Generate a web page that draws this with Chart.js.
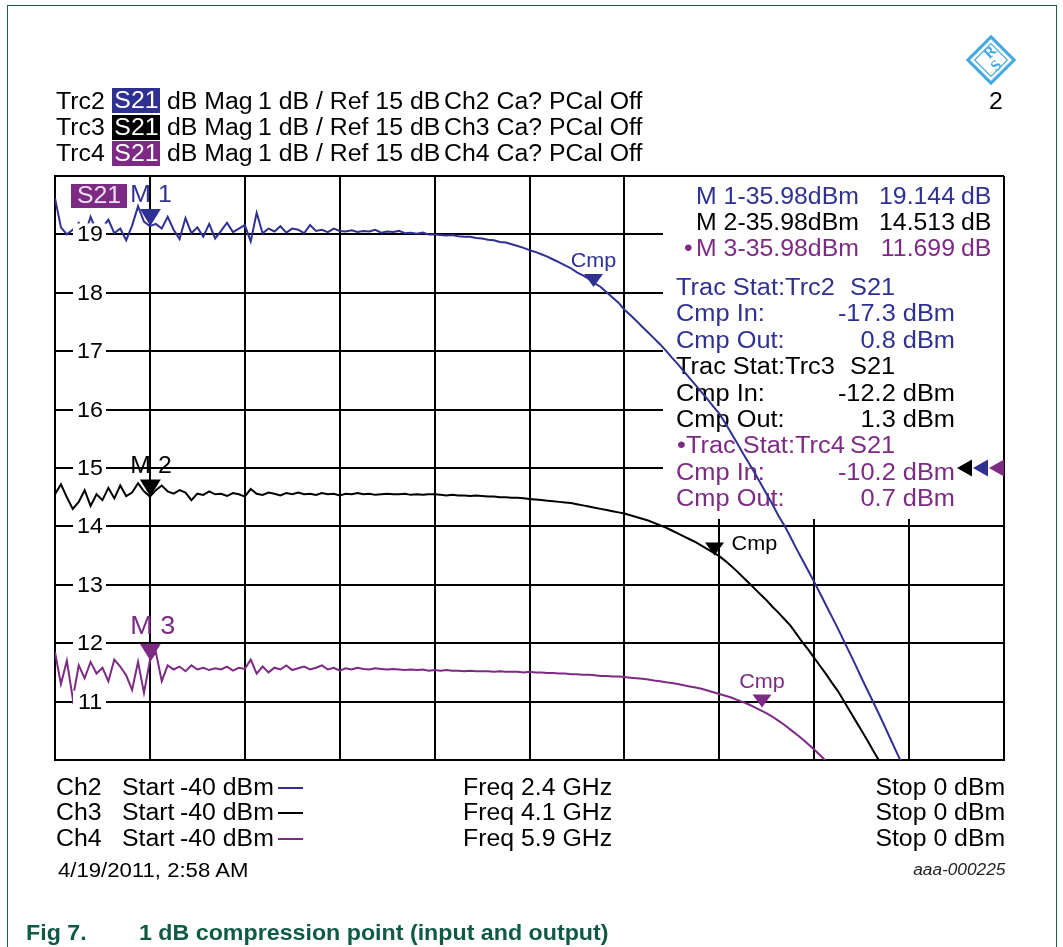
<!DOCTYPE html>
<html>
<head>
<meta charset="utf-8">
<title>1 dB compression point</title>
<script src="https://cdn.jsdelivr.net/npm/chart.js@4.4.1/dist/chart.umd.min.js"></script>
<style>
  html, body { margin: 0; padding: 0; background: #fff; }
  body { width: 1063px; height: 947px; position: relative; overflow: hidden;
         font-family: "Liberation Sans", Arial, Helvetica, sans-serif; }
  #frame { position: absolute; left: 7px; top: 5px; width: 1050px; height: 980px;
           border: 1.5px solid #1d5f4b; box-sizing: border-box; }
  #plot { position: absolute; left: 0; top: 0; }
  .t { position: absolute; white-space: nowrap; font-size: 23px; line-height: 26px; color: #000;
       transform: scaleX(1.08); transform-origin: left center; }
  .tr { transform-origin: right center; }
  .box { position: absolute; left: 112px; width: 48px; height: 25px; line-height: 25px;
         text-align: center; color: #fff; font-size: 23px; }
  .box span { display: inline-block; transform: scaleX(1.08); }
  .dash { position: absolute; left: 278px; width: 25px; height: 2px; }
  .cap { position: absolute; white-space: nowrap; font-size: 21.5px; line-height: 26px; font-weight: bold;
         color: #0f5a45; transform: scaleX(1.08); transform-origin: left center; }
</style>
</head>
<body>
<div id="frame"></div>
<canvas id="plot" width="1063" height="947"></canvas>

<!-- instrument logo -->
<svg style="position:absolute;left:966px;top:35px" width="50" height="50" viewBox="0 0 52 52">
  <polygon points="26,2 50,26 26,50 2,26" fill="none" stroke="#45a8de" stroke-width="3.2"/>
  <polygon points="26,9 43,26 26,43 9,26" fill="none" stroke="#45a8de" stroke-width="1.2"/>
  <text x="21" y="27" font-size="16" font-weight="bold" fill="#45a8de" font-family="Liberation Serif, serif" transform="rotate(-45 21 22)">R</text>
  <text x="27" y="37" font-size="16" font-weight="bold" fill="#45a8de" font-family="Liberation Serif, serif" transform="rotate(-45 31 32)">S</text>
</svg>

<!-- trace header lines -->
<div class="t" style="left:56px;top:88px">Trc2</div>
<div class="box" style="top:88px;background:#2e3192"><span>S21</span></div>
<div class="t" style="left:167px;top:88px">dB Mag</div>
<div class="t" style="left:258px;top:88px">1 dB / Ref 15 dB</div>
<div class="t" style="left:444px;top:88px">Ch2 Ca? PCal Off</div>
<div class="t tr" style="right:60px;top:88px">2</div>

<div class="t" style="left:56px;top:114px">Trc3</div>
<div class="box" style="top:114.5px;background:#000"><span>S21</span></div>
<div class="t" style="left:167px;top:114px">dB Mag</div>
<div class="t" style="left:258px;top:114px">1 dB / Ref 15 dB</div>
<div class="t" style="left:444px;top:114px">Ch3 Ca? PCal Off</div>

<div class="t" style="left:56px;top:140px">Trc4</div>
<div class="box" style="top:141px;background:#7d2a84"><span>S21</span></div>
<div class="t" style="left:167px;top:140px">dB Mag</div>
<div class="t" style="left:258px;top:140px">1 dB / Ref 15 dB</div>
<div class="t" style="left:444px;top:140px">Ch4 Ca? PCal Off</div>

<!-- channel footer -->
<div class="t" style="left:56px;top:774px">Ch2</div>
<div class="t" style="left:122px;top:774px">Start</div>
<div class="t" style="left:180px;top:774px">-40 dBm</div>
<div class="dash" style="top:787px;background:#2e3192"></div>
<div class="t" style="left:463px;top:774px">Freq 2.4 GHz</div>
<div class="t tr" style="right:58px;top:774px">Stop 0 dBm</div>

<div class="t" style="left:56px;top:799px">Ch3</div>
<div class="t" style="left:122px;top:799px">Start</div>
<div class="t" style="left:180px;top:799px">-40 dBm</div>
<div class="dash" style="top:812px;background:#000"></div>
<div class="t" style="left:463px;top:799px">Freq 4.1 GHz</div>
<div class="t tr" style="right:58px;top:799px">Stop 0 dBm</div>

<div class="t" style="left:56px;top:825px">Ch4</div>
<div class="t" style="left:122px;top:825px">Start</div>
<div class="t" style="left:180px;top:825px">-40 dBm</div>
<div class="dash" style="top:838px;background:#7d2a84"></div>
<div class="t" style="left:463px;top:825px">Freq 5.9 GHz</div>
<div class="t tr" style="right:58px;top:825px">Stop 0 dBm</div>

<div class="t" style="left:58px;top:857px;font-size:20.5px">4/19/2011, 2:58 AM</div>
<div class="t tr" style="right:58px;top:857px;font-size:16px;font-style:italic;color:#222">aaa-000225</div>

<div class="cap" style="left:26px;top:920px">Fig 7.</div>
<div class="cap" style="left:139px;top:920px">1 dB compression point (input and output)</div>

<script>
// Power sweep of the analyzer (stimulus axis, dBm)
const START_DBM = -40;
const STOP_DBM = 0;
const SWEEP_POINTS = 161;
const stimulus = Array.from({ length: SWEEP_POINTS },
  (_, i) => START_DBM + i * (STOP_DBM - START_DBM) / (SWEEP_POINTS - 1));

// Trace identifiers and colours
const traceNames = ['Trc2', 'Trc3', 'Trc4'];
const traceColors = ['#2e3192', '#000000', '#7d2a84'];

// S21 magnitude (dB) per sweep point, Ch2 2.4 GHz
const trc2 = [
  19.62, 19.12, 19.00, 19.08, 19.20, 18.98, 19.30, 19.05, 19.12, 19.25,
  19.02, 19.10, 18.90, 19.15, 19.48, 19.22, 19.14, 19.18, 19.10, 19.30,
  19.08, 18.92, 19.28, 19.02, 19.12, 18.96, 19.18, 18.93, 19.06, 19.20,
  19.04, 19.10, 19.16, 18.88, 19.37, 19.02, 19.10, 19.05, 19.14, 19.03,
  19.10, 19.08, 19.02, 19.16, 19.06, 19.08, 19.04, 19.10, 19.06,
  19.05, 19.07, 19.04, 19.06, 19.05, 19.08, 19.03, 19.05, 19.04, 19.06, 19.02, 19.03,
  19.01, 19.03, 19.00, 19.00, 18.99, 18.98, 18.99, 18.97, 18.96, 18.96, 18.94, 18.93,
  18.91, 18.90, 18.87, 18.86, 18.83, 18.80, 18.77, 18.73, 18.70, 18.66, 18.62, 18.57,
  18.52, 18.47, 18.42, 18.35, 18.30, 18.24, 18.16, 18.10, 18.01, 17.92, 17.83, 17.71,
  17.62, 17.52, 17.42, 17.32, 17.22, 17.12, 17.01, 16.89, 16.78, 16.66, 16.54, 16.42,
  16.30, 16.18, 16.05, 15.93, 15.77, 15.60, 15.43, 15.25, 15.08, 14.91, 14.73, 14.55,
  14.37, 14.18, 14.01, 13.82, 13.62, 13.43, 13.24, 13.05, 12.85, 12.65, 12.45, 12.25,
  12.04, 11.83, 11.62, 11.40, 11.19, 10.98, 10.77, 10.55, 10.33, 10.11, 9.89, 9.66,
  9.45, 9.23, 9.01, 8.80, 8.57, 8.35, 8.13, 7.90, 7.68, 7.45, 7.22, 7.00,
  6.78, 6.55, 6.33, 6.10
];

// S21 magnitude (dB), Ch3 4.1 GHz
const trc3 = [
  14.55, 14.72, 14.50, 14.30, 14.42, 14.62, 14.35, 14.55, 14.45, 14.66,
  14.48, 14.70, 14.52, 14.58, 14.74, 14.60, 14.51, 14.62, 14.70, 14.60,
  14.56, 14.62, 14.58, 14.45, 14.56, 14.54, 14.60, 14.55, 14.56, 14.52,
  14.57, 14.55, 14.51, 14.64, 14.56, 14.54, 14.58, 14.56, 14.53, 14.57,
  14.55, 14.58, 14.55, 14.56, 14.54, 14.57, 14.55, 14.56, 14.53,
  14.56, 14.55, 14.57, 14.55, 14.56, 14.54, 14.55, 14.56, 14.55, 14.55, 14.56, 14.54,
  14.55, 14.54, 14.55, 14.55, 14.54, 14.53, 14.54, 14.53, 14.53, 14.52, 14.53, 14.52,
  14.51, 14.51, 14.50, 14.50, 14.49, 14.49, 14.48, 14.47, 14.46, 14.45, 14.44, 14.43,
  14.42, 14.41, 14.40, 14.38, 14.36, 14.34, 14.32, 14.30, 14.28, 14.26, 14.24, 14.22,
  14.19, 14.16, 14.13, 14.10, 14.06, 14.02, 13.98, 13.93, 13.88, 13.83, 13.78, 13.73,
  13.67, 13.61, 13.55, 13.49, 13.41, 13.32, 13.23, 13.13, 13.03, 12.93, 12.83, 12.73,
  12.62, 12.52, 12.41, 12.30, 12.16, 12.02, 11.89, 11.75, 11.61, 11.47, 11.32, 11.18,
  11.01, 10.84, 10.67, 10.50, 10.33, 10.15, 9.98, 9.80, 9.62, 9.43, 9.24, 9.05,
  8.86, 8.67, 8.49, 8.30, 8.10, 7.90, 7.70, 7.50, 7.30, 7.10, 6.90, 6.70,
  6.50, 6.30, 6.10, 5.90
];

// S21 magnitude (dB), Ch4 5.9 GHz
const trc4 = [
  11.85, 11.30, 11.70, 11.05, 11.62, 11.40, 11.68, 11.48, 11.58, 11.35,
  11.72, 11.60, 11.45, 11.20, 11.68, 11.15, 11.70, 11.85, 11.35, 11.62,
  11.55, 11.60, 11.52, 11.62, 11.55, 11.58, 11.54, 11.57, 11.55, 11.60,
  11.53, 11.58, 11.56, 11.72, 11.48, 11.60, 11.50, 11.58, 11.55, 11.62,
  11.54, 11.57, 11.60, 11.55, 11.58, 11.62, 11.55, 11.58, 11.53,
  11.57, 11.55, 11.58, 11.56, 11.55, 11.57, 11.56, 11.55, 11.56, 11.55, 11.54, 11.55,
  11.54, 11.55, 11.53, 11.54, 11.53, 11.54, 11.53, 11.53, 11.52, 11.53, 11.52, 11.52,
  11.52, 11.51, 11.52, 11.51, 11.51, 11.51, 11.50, 11.51, 11.50, 11.50, 11.49, 11.49,
  11.48, 11.48, 11.47, 11.47, 11.46, 11.46, 11.45, 11.44, 11.44, 11.43, 11.43, 11.42,
  11.41, 11.40, 11.39, 11.38, 11.36, 11.35, 11.33, 11.32, 11.30, 11.28, 11.26, 11.24,
  11.22, 11.19, 11.16, 11.13, 11.10, 11.07, 11.03, 10.99, 10.95, 10.90, 10.85, 10.80,
  10.74, 10.67, 10.60, 10.52, 10.44, 10.36, 10.27, 10.18, 10.08, 9.98, 9.88, 9.78,
  9.66, 9.54, 9.42, 9.30, 9.18, 9.05, 8.93, 8.80, 8.67, 8.55, 8.42, 8.30,
  8.18, 8.05, 7.93, 7.80, 7.67, 7.55, 7.42, 7.30, 7.18, 7.05, 6.93, 6.80,
  6.68, 6.55, 6.43, 6.30
];

// Markers M1..M3 (stimulus in dBm, readout in dB)
const markerNames = ['M 1', 'M 2', 'M 3'];
const markerStimulus = [-35.98, -35.98, -35.98];
const markerValues = [19.144, 14.513, 11.699];

// Compression point statistics per trace (dBm)
const cmpIn = [-17.3, -12.2, -10.2];
const cmpOut = [0.8, 1.3, 0.7];

// Scale settings: 1 dB / div, reference level 15 dB
const refLevel = 15;
const yMin = 10, yMax = 20, yStep = 1;
const xStep = 4;

const FONT = '"Liberation Sans", Arial, Helvetica, sans-serif';
const SX = 1.08;

function txt(ctx, s, x, y, size, color, align) {
  ctx.save();
  ctx.font = size + 'px ' + FONT;
  ctx.fillStyle = color;
  ctx.textBaseline = 'middle';
  ctx.textAlign = align || 'left';
  ctx.translate(x, y);
  ctx.scale(SX, 1);
  ctx.fillText(s, 0, 0);
  ctx.restore();
}

function downTriangle(ctx, cx, tipY, w, h, color) {
  ctx.beginPath();
  ctx.moveTo(cx - w / 2, tipY - h);
  ctx.lineTo(cx + w / 2, tipY - h);
  ctx.lineTo(cx, tipY);
  ctx.closePath();
  ctx.fillStyle = color;
  ctx.fill();
}

function leftTriangle(ctx, tipX, cy, w, h, color) {
  ctx.beginPath();
  ctx.moveTo(tipX, cy);
  ctx.lineTo(tipX + w, cy - h / 2);
  ctx.lineTo(tipX + w, cy + h / 2);
  ctx.closePath();
  ctx.fillStyle = color;
  ctx.fill();
}

const analyzerOverlay = {
  id: 'analyzerOverlay',
  beforeDatasetsDraw(chart) {
    const { ctx, chartArea: a } = chart;
    ctx.save();
    // readout panel covering the grid in the upper right
    ctx.fillStyle = '#fff';
    ctx.fillRect(a.right - 341, a.top + 1, 340, 342);

    // marker readout
    markerNames.forEach((m, i) => {
      const cy = a.top + 22 + i * 26;
      const c = traceColors[i];
      if (i === 2) txt(ctx, '\u2022', a.right - 320, cy, 23, c);
      txt(ctx, m + markerStimulus[i].toFixed(2) + 'dBm', a.right - 308, cy, 23, c);
      txt(ctx, markerValues[i].toFixed(3), a.right - 49, cy, 23, c, 'right');
      txt(ctx, 'dB', a.right - 43, cy, 23, c);
    });

    // trace statistics
    traceNames.forEach((n, i) => {
      const c = traceColors[i];
      const y0 = a.top + 112.3 + i * 3 * 26.45;
      const head = (i === 2 ? '\u2022' : '') + 'Trac Stat:' + n;
      txt(ctx, head, a.right - (i === 2 ? 327 : 328), y0, 23.5, c);
      txt(ctx, 'S21', a.right - 154, y0, 23.5, c);
      txt(ctx, 'Cmp In:', a.right - 328, y0 + 26.45, 23.5, c);
      txt(ctx, cmpIn[i].toFixed(1) + ' dBm', a.right - 49, y0 + 26.45, 23.5, c, 'right');
      txt(ctx, 'Cmp Out:', a.right - 328, y0 + 52.9, 23.5, c);
      txt(ctx, cmpOut[i].toFixed(1) + ' dBm', a.right - 49, y0 + 52.9, 23.5, c, 'right');
    });
    ctx.restore();
  },
  afterDatasetsDraw(chart) {
    const { ctx, chartArea: a, scales } = chart;
    const xs = scales.x, ys = scales.y;
    ctx.save();

    // value labels sitting on the horizontal grid lines
    ys.ticks.forEach(t => {
      if (t.value <= yMin || t.value >= yMax) return;
      const py = ys.getPixelForValue(t.value);
      ctx.fillStyle = '#fff';
      ctx.fillRect(a.left + 18, py - 11, 33, 22);
      txt(ctx, String(t.value), a.left + 35, py + 1, 21.5, '#000', 'center');
    });

    // active measured quantity tag
    ctx.fillStyle = '#7d2a84';
    ctx.fillRect(a.left + 16, a.top + 8, 56, 24);
    txt(ctx, 'S21', a.left + 44, a.top + 20.5, 23, '#ece0f0', 'center');

    // markers M1..M3
    markerNames.forEach((m, i) => {
      const px = xs.getPixelForValue(markerStimulus[i]);
      const py = ys.getPixelForValue(markerValues[i]);
      downTriangle(ctx, px, py, 21, 17, traceColors[i]);
      txt(ctx, m, px - 20, py - (i === 2 ? 34 : 30), i === 2 ? 25 : 23, traceColors[i]);
    });

    // compression point markers
    cmpIn.forEach((v, i) => {
      const px = xs.getPixelForValue(v);
      const py = ys.getPixelForValue(cmpOut[i] - v);
      downTriangle(ctx, px, py, 19, 13, traceColors[i]);
      if (i === 1) txt(ctx, 'Cmp', px + 17, py - 11, 20, traceColors[i]);
      else txt(ctx, 'Cmp', px, py - 25, 20, traceColors[i], 'center');
    });

    // reference level arrows at the right edge
    const ry = ys.getPixelForValue(refLevel);
    leftTriangle(ctx, a.right - 47, ry, 15, 17, traceColors[1]);
    leftTriangle(ctx, a.right - 31, ry, 15, 17, traceColors[0]);
    leftTriangle(ctx, a.right - 15, ry, 15, 17, traceColors[2]);
    ctx.restore();
  }
};

const traces = [trc2, trc3, trc4];
const datasets = traces.map((vals, i) => ({
  label: traceNames[i],
  data: vals.map((v, k) => ({ x: stimulus[k], y: v })),
  borderColor: traceColors[i],
  borderWidth: 2,
  pointRadius: 0,
  tension: 0,
  fill: false
}));

const gridStyle = { color: '#000', lineWidth: 2, drawTicks: false };
const borderStyle = { display: true, color: '#000', width: 2 };

new Chart(document.getElementById('plot'), {
  type: 'line',
  data: { datasets },
  options: {
    responsive: false,
    animation: false,
    devicePixelRatio: 1,
    parsing: false,
    layout: { padding: { left: 55, right: 59, top: 176, bottom: 187 } },
    plugins: { legend: { display: false }, tooltip: { enabled: false } },
    scales: {
      x: {
        type: 'linear', min: START_DBM, max: STOP_DBM,
        ticks: { stepSize: xStep, display: false },
        grid: gridStyle, border: borderStyle,
        afterFit(s) { s.height = 0; }
      },
      y: {
        type: 'linear', min: yMin, max: yMax,
        ticks: { stepSize: yStep, display: false },
        grid: gridStyle, border: borderStyle,
        afterFit(s) { s.width = 0; }
      }
    }
  },
  plugins: [analyzerOverlay]
});
</script>
</body>
</html>
